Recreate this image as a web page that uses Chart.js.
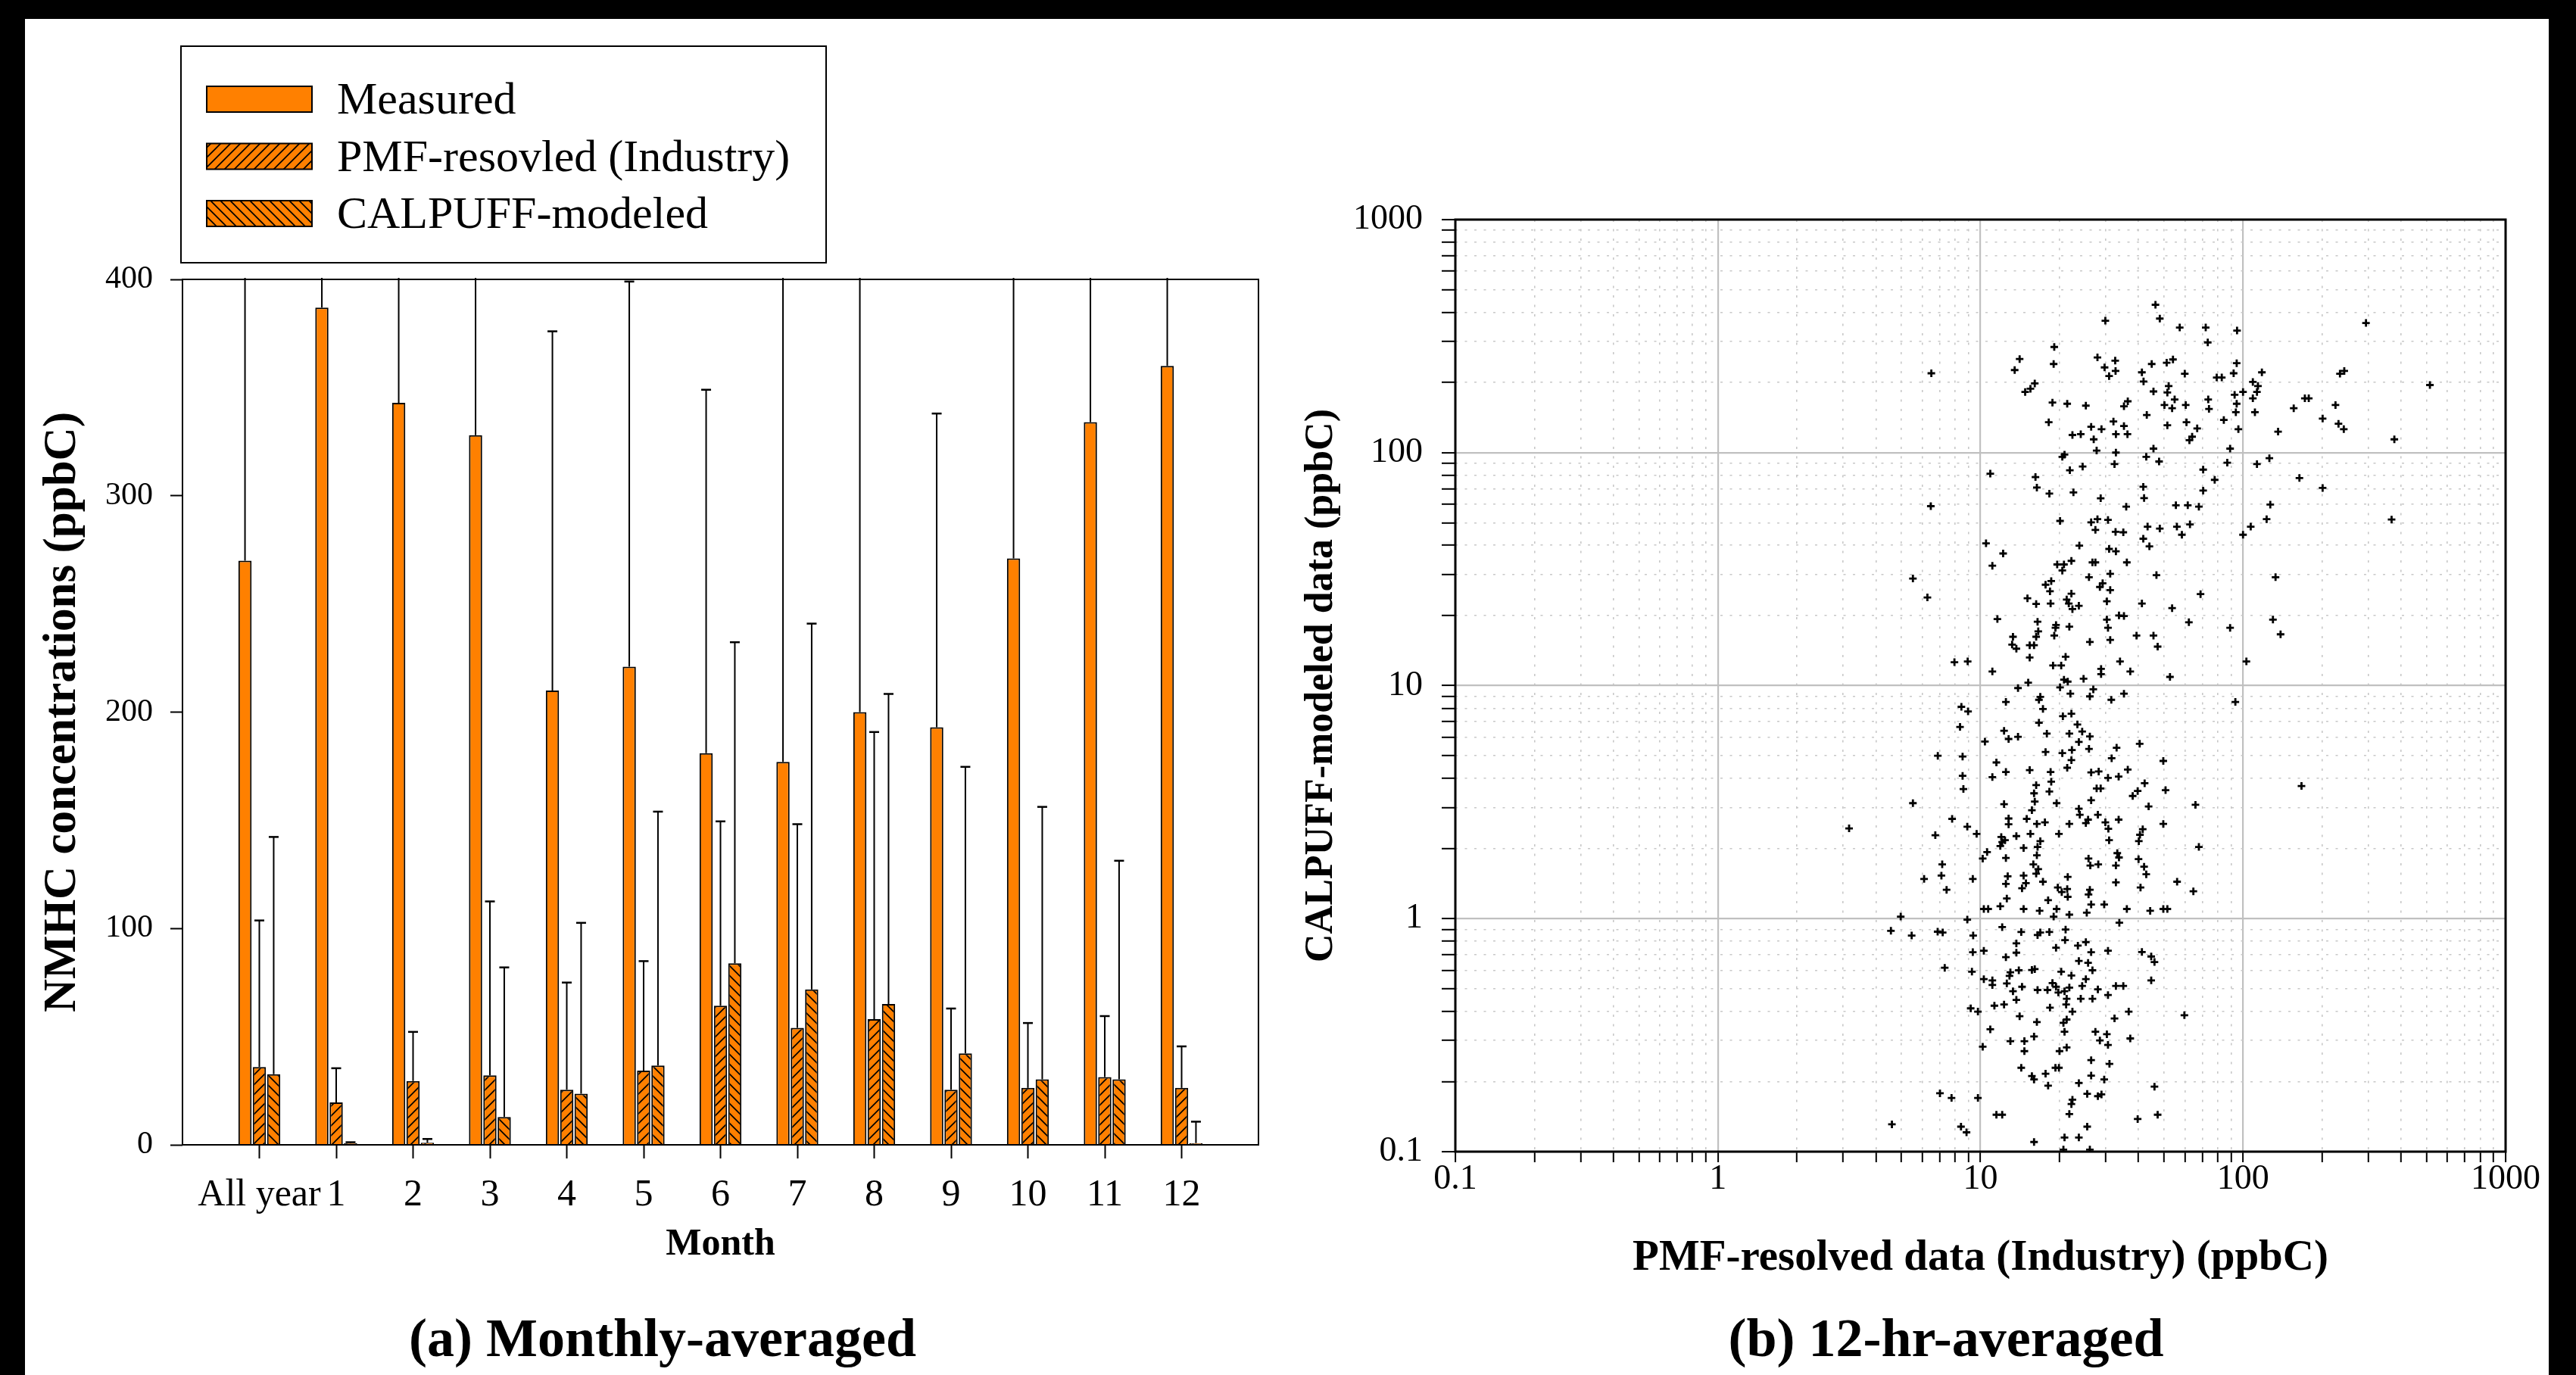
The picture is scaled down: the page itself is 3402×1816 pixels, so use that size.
<!DOCTYPE html>
<html><head><meta charset="utf-8">
<script src="https://cdn.jsdelivr.net/npm/chart.js@4.4.1/dist/chart.umd.min.js"></script>
<style>
html,body{margin:0;padding:0;width:3402px;height:1816px;overflow:hidden;background:#000;}
#panel{position:absolute;left:33px;top:25px;width:3333px;height:1791px;background:#fff;}
#c1{position:absolute;left:0;top:0;width:1750px;height:1816px;}
#c2{position:absolute;left:1690px;top:0;width:1760px;height:1816px;}
</style></head><body>
<div id="panel"></div>
<canvas id="c1" width="1750" height="1816"></canvas>
<canvas id="c2" width="1760" height="1816"></canvas>
<script>
// ---------- data: panel (a) ----------
const categories = ['All year','1','2','3','4','5','6','7','8','9','10','11','12'];
const measured      = [270, 387, 343, 328, 210, 221, 181, 177, 200, 193, 271, 334, 360];
const measuredSD    = [190, 150, 170, 180, 166, 178, 168, 240, 230, 145, 200, 160, 150];
const pmfIndustry   = [36, 19.6, 29.5, 32.1, 25.5, 34.3, 64.3, 54.1, 58.1, 25.5, 26.3, 31.3, 26.3];
const pmfSD         = [67.7, 15.8, 22.7, 80.4, 49.5, 50.6, 85.2, 94.1, 132.7, 37.5, 30, 28.2, 19.2];
const calpuff       = [32.6, 0.8, 1.0, 12.9, 23.6, 36.7, 83.9, 71.8, 65.1, 42.3, 30.3, 30.3, 0.8];
const calpuffSD     = [109.7, 0.4, 1.7, 69.1, 79, 117.3, 148.4, 169.1, 143.3, 132.4, 125.9, 101, 9.9];
const yTicksA = [0, 100, 200, 300, 400];

// ---------- data: panel (b) [PMF-resolved, CALPUFF-modeled] ----------
const pmfVsCalpuff = [
[6.5,219],[13.5,226],[14.1,252],[14.8,182],[15.5,188],[16.1,198],[19.1,284],[19.0,240],[18.8,164],[18.2,135],[21.4,162],[25.2,159],[22.4,119],[24.1,120],[26.4,129],[28.9,126],[27.0,114],[27.7,102],[20.9,98],[27.9,256],[29.9,368],[29.7,232],[30.9,213],[32.7,224],[32.6,248],[32.1,136],[32.8,120],[35.2,130],[36.3,120],[35.2,158],[36.4,166],[32.8,100],[41.2,221],[41.8,202],[44.9,240],[46.4,431],[48.2,376],[51.2,243],[54.1,251],[52.1,193],[51.5,181],[45.6,183],[43.0,145],[50.2,160],[53.7,155],[54.9,169],[51.5,131],[45.6,104],[57.4,344],[60.5,160],[60.0,218],[60.9,135],[62.5,113],[64.0,117],[66.9,127],[72.1,344],[73.4,297],[74.2,154],[73.7,169],[79.4,210],[83.0,210],[92.1,219],[94.6,242],[94.9,334],[84.5,138],[89.3,104],[92.9,177],[94.6,162],[93.9,149],[96.0,126],[100,182],[109,201],[114,193],[113,182],[109,171],[111,149],[118,221],[136,123],[156,155],[172,171],[178,171],[201,140],[225,160],[234,218],[243,224],[231,133],[242,126],[294,360],[377,114],[515,195],[126,94.6],
[42.8,95.9],[47.9,91.6],[32.4,89.3],[24.5,87.1],[20.5,95.9],[87.1,90.5],[113,89.3],[21.9,84.0],[10.9,81.2],[16.2,78.5],[70.5,84.5],[78.0,76.4],[164,77.8],[201,70.5],[16.4,70.8],[18.3,66.7],[22.6,67.5],[28.7,63.7],[41.7,71.3],[42.0,63.8],[70.5,68.7],[6.47,58.9],[35.9,58.6],[55.5,59.4],[61.6,59.4],[67.9,58.6],[127,59.8],[20.1,50.9],[26.4,50.2],[27.9,51.8],[30.6,51.4],[123,51.8],[368,51.6],[107,48.1],[100,44.4],[27.4,46.6],[32.7,45.7],[35.0,45.5],[43.3,48.1],[48.2,47.2],[56.0,48.1],[62.8,49.2],[58.5,44.4],[41.7,42.7],[10.5,40.8],[23.8,39.9],[44.0,39.6],[12.2,36.9],[30.9,38.6],[32.8,37.7],[22.2,34.3],[19.6,33.1],[20.8,33.1],[20.5,31.2],[26.7,33.8],[27.4,33.8],[36.1,33.8],[11.1,32.7],[5.53,28.8],[25.9,29.2],[31.2,30.2],[46.8,29.8],[133,29.2],[18.6,28.1],[17.7,27.1],[29.2,27.5],[28.5,26.5],[31.2,25.7],[18.4,25.4],[22.2,24.8],[68.9,24.7],[6.28,23.9],[15.1,23.7],[16.3,22.4],[18.5,22.5],[21.3,23.4],[21.7,22.5],[23.7,22.0],[22.4,21.3],[30.3,23.0],[41.2,22.5],[53.7,21.5],[11.6,19.3],[16.5,18.8],[19.4,18.2],[19.3,17.7],[21.8,17.9],[33.7,20.0],[35.2,19.9],[30.3,19.2],[30.6,17.7],[62.2,18.7],[130,19.2],[89.3,17.7],[139,16.6],[13.3,16.2],[16.6,17.1],[16.3,16.2],[19.1,16.4],[39.3,16.4],[45.6,16.4],[13.2,15.0],[13.7,14.4],[15.4,14.9],[16.0,14.9],[26.1,15.4],[31.2,15.7],[47.3,14.7],[15.4,13.2],[21.1,13.3],[7.96,12.6],[8.94,12.7],[18.9,12.2],[20.3,12.2],[34.0,12.7],[103,12.7],[11.1,11.5],[28.8,11.8],[28.8,11.2],[37.2,11.5],[52.7,10.9],[20.8,10.6],[21.5,10.4],[24.7,10.7],[15.2,10.3],
[13.9,9.76],[20.1,9.83],[26.9,9.64],[22.0,9.23],[26.1,8.99],[35.2,9.23],[31.5,8.69],[16.9,8.95],[16.7,8.69],[12.5,8.51],[93.5,8.51],[8.46,8.11],[8.97,7.75],[17.3,7.94],[20.6,7.39],[22.2,7.58],[8.36,6.65],[16.7,6.93],[23.4,6.81],[12.3,6.40],[17.9,6.22],[21.8,6.22],[24.4,6.35],[26.1,6.05],[10.4,5.75],[12.8,5.90],[13.9,6.03],[23.7,5.73],[40.4,5.63],[33.0,5.41],[6.88,5.00],[8.55,4.96],[17.7,5.19],[20.5,5.13],[22.3,5.29],[25.9,5.35],[31.6,4.88],[49.7,4.75],[11.5,4.68],[22.2,4.79],[21.4,4.44],[15.4,4.34],[12.5,4.26],[18.5,4.26],[26.4,4.24],[28.2,4.28],[36.4,4.36],[8.55,4.10],[11.1,4.05],[30.6,4.02],[33.6,4.07],[8.61,3.60],[18.6,3.87],[16.3,3.74],[18.3,3.51],[16.0,3.45],[27.7,3.62],[28.7,3.62],[42.2,3.81],[39.7,3.53],[38.0,3.36],[50.7,3.56],[167,3.71],[16.1,3.18],[26.4,3.22],[5.53,3.13],[12.3,3.10],[19.5,3.13],[65.9,3.08],[15.7,2.92],[23.7,2.96],[43.7,3.03],[28.0,2.79],[7.80,2.68],[12.8,2.69],[15.0,2.68],[23.9,2.79],[25.7,2.66],[33.6,2.66],[12.8,2.54],[16.4,2.55],[17.6,2.59],[21.8,2.55],[25.2,2.57],[29.9,2.59],[49.7,2.55],[3.16,2.44],[8.91,2.48],[30.7,2.43],[41.5,2.42],[6.73,2.28],[9.67,2.31],[15.5,2.31],[19.9,2.31],[13.7,2.26],[12.0,2.24],[12.4,2.17],[12.1,2.13],[16.9,2.15],[30.9,2.17],[40.5,2.29],[40.1,2.15],[11.9,2.05],[14.6,2.01],[16.5,2.03],[67.9,2.03],[10.6,1.93],[10.2,1.81],[12.5,1.82],[16.4,1.87],[33.2,1.91],[33.7,1.83],[25.8,1.81],[7.15,1.71],[15.9,1.71],[16.6,1.63],[26.2,1.69],[28.1,1.71],[32.8,1.69],[40.0,1.80],[42.0,1.67],[7.10,1.53],[6.10,1.48],[9.35,1.48],[12.7,1.52],[14.6,1.53],[16.3,1.56],[21.5,1.51],[42.8,1.55],[12.5,1.41],[14.9,1.42],[17.3,1.44],[32.8,1.43],[56.1,1.44],[7.43,1.33],[14.4,1.35],[19.7,1.36],[20.4,1.30],[21.4,1.34],[26.1,1.33],[25.8,1.27],[21.5,1.24],[40.7,1.36],[64.7,1.31],[12.6,1.22],[18.1,1.20],[26.4,1.15],[29.6,1.15],[10.3,1.10],[10.7,1.10],[11.9,1.13],[14.6,1.10],[16.8,1.08],[19.5,1.10],[36.1,1.10],[44.3,1.08],[49.7,1.10],[51.5,1.10],[4.97,1.02],[19.0,1.02],[21.8,1.04],[25.4,1.06],
[8.91,0.99],[33.8,0.96],[12.1,0.92],[4.56,0.887],[6.87,0.879],[7.18,0.872],[5.47,0.846],[9.38,0.846],[14.3,0.876],[16.5,0.850],[16.9,0.872],[18.3,0.876],[21.1,0.898],[21.0,0.809],[25.2,0.793],[13.7,0.783],[23.5,0.766],[19.4,0.750],[9.35,0.718],[10.3,0.728],[13.7,0.714],[26.4,0.718],[30.6,0.728],[41.2,0.719],[12.5,0.683],[44.7,0.688],[46.0,0.651],[23.7,0.658],[25.7,0.646],[7.31,0.615],[9.28,0.592],[13.0,0.588],[14.0,0.600],[15.7,0.602],[16.1,0.607],[20.3,0.592],[26.7,0.600],[12.9,0.568],[22.2,0.570],[10.3,0.550],[11.1,0.543],[25.2,0.550],[44.7,0.543],[12.6,0.527],[11.1,0.519],[14.4,0.510],[18.8,0.529],[19.4,0.510],[21.8,0.506],[24.4,0.514],[32.8,0.514],[35.0,0.514],[16.5,0.494],[18.0,0.494],[13.3,0.488],[19.8,0.482],[20.9,0.488],[28.0,0.497],[30.6,0.470],[13.7,0.448],[21.3,0.453],[24.1,0.453],[26.7,0.453],[9.18,0.412],[9.78,0.399],[11.3,0.423],[12.3,0.428],[18.4,0.415],[21.2,0.428],[22.4,0.399],[36.7,0.399],[59.8,0.385],[14.1,0.381],[32.4,0.373],[16.4,0.360],[20.7,0.357],[21.3,0.369],[10.9,0.335],[20.9,0.327],[27.4,0.327],[30.3,0.319],[16.0,0.312],[13.0,0.298],[14.7,0.298],[28.5,0.300],[37.2,0.306],[30.6,0.287],[10.2,0.282],[21.3,0.280],[14.7,0.270],[20.0,0.270],[26.4,0.247],[31.0,0.238],[14.3,0.229],[19.3,0.229],[19.9,0.229],[15.7,0.211],[17.7,0.216],[16.0,0.204],[26.4,0.212],[29.6,0.204],[18.1,0.192],[23.7,0.197],[46.0,0.190],[7.01,0.178],[7.76,0.170],[9.78,0.170],[25.5,0.177],[28.0,0.173],[28.9,0.176],[22.4,0.167],[22.2,0.160],[11.5,0.144],[12.1,0.144],[21.8,0.145],[39.7,0.138],[47.3,0.144],[4.60,0.131],[8.43,0.128],[8.85,0.121],[25.5,0.128],[20.9,0.115],[23.7,0.115],[16.0,0.110],[20.7,0.102],[26.1,0.102]
];
const decadeLabels = ['0.1','1','10','100','1000'];

// ---------- styling ----------
const SERIF = "'Liberation Serif','Times New Roman','DejaVu Serif',serif";
const ORANGE = '#FF8000';
Chart.defaults.color = '#000';

const ctx1 = document.getElementById('c1').getContext('2d');
function hatch(dir){
  const s = 13, c = document.createElement('canvas');
  c.width = s; c.height = s;
  const g = c.getContext('2d');
  g.fillStyle = ORANGE; g.fillRect(0,0,s,s);
  g.strokeStyle = '#000'; g.lineWidth = 1.7; g.beginPath();
  if (dir > 0) {
    g.moveTo(0,s); g.lineTo(s,0);
    g.moveTo(-s/2,s/2); g.lineTo(s/2,-s/2);
    g.moveTo(s/2,s*1.5); g.lineTo(s*1.5,s/2);
  } else {
    g.moveTo(0,0); g.lineTo(s,s);
    g.moveTo(-s/2,s/2); g.lineTo(s/2,s*1.5);
    g.moveTo(s/2,-s/2); g.lineTo(s*1.5,s/2);
  }
  g.stroke();
  return ctx1.createPattern(c,'repeat');
}

const pad = a => [null, ...a, null];
const xLabels = ['', ...categories, ''];

const errorBars = {
  id: 'errorBars',
  afterDatasetsDraw(chart) {
    const {ctx, chartArea: a, scales: {y}} = chart;
    ctx.save();
    ctx.beginPath(); ctx.rect(a.left, a.top - 2, a.right - a.left, a.bottom - a.top + 2); ctx.clip();
    ctx.strokeStyle = '#000';
    chart.data.datasets.forEach((ds, i) => {
      const meta = chart.getDatasetMeta(i);
      (ds.errors || []).forEach((e, j) => {
        const v = ds.data[j];
        if (v == null || e == null) return;
        const el = meta.data[j];
        const x = el.x, y0 = el.y, y1 = y.getPixelForValue(v + e);
        ctx.lineWidth = 2;
        ctx.beginPath(); ctx.moveTo(x, y0); ctx.lineTo(x, y1); ctx.stroke();
        if (y1 >= a.top - 1) {
          ctx.lineWidth = 2.5;
          ctx.beginPath(); ctx.moveTo(x - 6.5, y1); ctx.lineTo(x + 6.5, y1); ctx.stroke();
        }
      });
    });
    ctx.restore();
  }
};

const frame = {
  id: 'frame',
  afterDraw(chart, args, o) {
    const {ctx, chartArea: a} = chart;
    ctx.save();
    ctx.strokeStyle = '#000'; ctx.lineWidth = o.width || 2;
    ctx.strokeRect(a.left, a.top, a.right - a.left, a.bottom - a.top);
    ctx.restore();
  }
};

const boxLegend = {
  id: 'boxLegend',
  afterDraw(chart, args, o) {
    if (!o || !o.show) return;
    const ctx = chart.ctx;
    ctx.save();
    ctx.fillStyle = '#fff'; ctx.fillRect(o.x, o.y, o.w, o.h);
    ctx.lineWidth = 2; ctx.strokeStyle = '#000'; ctx.strokeRect(o.x, o.y, o.w, o.h);
    ctx.font = o.font; ctx.textAlign = 'left'; ctx.textBaseline = 'alphabetic';
    chart.data.datasets.forEach((ds, i) => {
      const cy = o.y + o.rowTop + i * o.rowGap;
      ctx.fillStyle = ds.backgroundColor;
      ctx.fillRect(o.swX, cy - o.swH / 2, o.swW, o.swH);
      ctx.lineWidth = 2; ctx.strokeStyle = '#000';
      ctx.strokeRect(o.swX, cy - o.swH / 2, o.swW, o.swH);
      ctx.fillStyle = '#000';
      ctx.fillText(ds.label, o.textX, cy + 19);
    });
    ctx.restore();
  }
};

// an invisible right-hand spacer axis so the bottom title centres on the whole panel
const spacer = w => ({
  position: 'right', display: true,
  grid: {display: false}, ticks: {display: false}, border: {display: false},
  afterFit(s) { s.width = w; }
});

// ---------- chart (a) ----------
new Chart(ctx1, {
  type: 'bar',
  data: {
    labels: xLabels,
    datasets: [
      {label: 'Measured', data: pad(measured), errors: pad(measuredSD), backgroundColor: ORANGE, yAxisID: 'y', xAxisID: 'x',
       borderColor: '#000', borderWidth: 2, categoryPercentage: 0.56, barPercentage: 0.92},
      {label: 'PMF-resovled (Industry)', data: pad(pmfIndustry), errors: pad(pmfSD), backgroundColor: hatch(1), yAxisID: 'y', xAxisID: 'x',
       borderColor: '#000', borderWidth: 2, categoryPercentage: 0.56, barPercentage: 0.92},
      {label: 'CALPUFF-modeled', data: pad(calpuff), errors: pad(calpuffSD), backgroundColor: hatch(-1), yAxisID: 'y', xAxisID: 'x',
       borderColor: '#000', borderWidth: 2, categoryPercentage: 0.56, barPercentage: 0.92}
    ]
  },
  options: {
    responsive: false, animation: false, devicePixelRatio: 1,
    layout: {padding: {top: 369, right: 0, left: 0, bottom: 0}},
    plugins: {
      legend: {display: false}, tooltip: {enabled: false},
      title: {display: true, position: 'bottom', text: '(a) Monthly-averaged', color: '#000',
              font: {family: SERIF, size: 72, weight: 'bold', lineHeight: 1.2}, padding: {top: 0, bottom: 0}},
      frame: {width: 2},
      boxLegend: {show: true, x: 239, y: 61, w: 852, h: 286, rowTop: 70, rowGap: 75.5,
                  swX: 273, swW: 139, swH: 34, textX: 445, font: "60px 'Liberation Serif', serif"}
    },
    scales: {
      x: {
        type: 'category', offset: false,
        grid: {display: true, drawOnChartArea: false, offset: false, tickLength: 18, tickWidth: 2,
               tickColor: c => (c.index === 0 || c.index === xLabels.length - 1) ? 'rgba(0,0,0,0)' : '#000'},
        border: {display: false},
        ticks: {autoSkip: false, maxRotation: 0, minRotation: 0, color: '#000',
                font: {family: SERIF, size: 50, lineHeight: 1}, padding: 24},
        title: {display: true, text: 'Month', color: '#000',
                font: {family: SERIF, size: 50, weight: 'bold', lineHeight: 1.2}, padding: {top: 0, bottom: 56}},
        afterFit(s) { s.height = 217.6; }
      },
      y: {
        min: 0, max: 400,
        afterBuildTicks(s) { s.ticks = yTicksA.map(v => ({value: v})); },
        ticks: {color: '#000', font: {family: SERIF, size: 42, lineHeight: 1}, padding: 23},
        grid: {drawOnChartArea: false, tickLength: 16, tickWidth: 2, tickColor: '#000'},
        border: {display: false},
        title: {display: true, text: 'NMHC concentrations (ppbC)', color: '#000',
                font: {family: SERIF, size: 61, weight: 'bold', lineHeight: 1.2}, padding: {top: 47, bottom: 0}},
        afterFit(s) { s.width = 241; }
      },
      ySpace: spacer(88)
    }
  },
  plugins: [errorBars, frame, boxLegend]
});

// ---------- chart (b) ----------
const logTicks = [];
for (let e = -1; e <= 2; e++) for (let k = 1; k <= 9; k++) logTicks.push(Number((k * Math.pow(10, e)).toPrecision(6)));
logTicks.push(1000);
const isDecade = v => Math.abs(Math.log10(v) - Math.round(Math.log10(v))) < 1e-6;
const decadeLabel = v => isDecade(v) ? decadeLabels[Math.round(Math.log10(v)) + 1] : '';

const logGrid = {
  color: c => (c.tick && isDecade(c.tick.value)) ? '#c0c0c0' : '#c8c8c8',
  lineWidth: c => (c.tick && isDecade(c.tick.value)) ? 2.2 : 1.6,
  tickColor: '#000', tickWidth: 2
};
const logBorder = {display: false, dash: c => (c.tick && isDecade(c.tick.value)) ? [] : [3, 9.5]};

new Chart(document.getElementById('c2').getContext('2d'), {
  type: 'scatter',
  data: {
    datasets: [{
      label: 'Industry', xAxisID: 'x', yAxisID: 'y',
      data: pmfVsCalpuff.map(([x, y]) => ({x, y})),
      pointStyle: 'cross', radius: 5, borderWidth: 2.8, borderColor: '#000', backgroundColor: '#000'
    }]
  },
  options: {
    responsive: false, animation: false, devicePixelRatio: 1,
    layout: {padding: {top: 290, right: 0, left: 0, bottom: 0}},
    plugins: {
      legend: {display: false}, tooltip: {enabled: false},
      title: {display: true, position: 'bottom', text: '(b) 12-hr-averaged', color: '#000',
              font: {family: SERIF, size: 72, weight: 'bold', lineHeight: 1.2}, padding: {top: 0, bottom: 0}},
      frame: {width: 3}
    },
    scales: {
      x: {
        type: 'logarithmic', min: 0.1, max: 1000,
        afterBuildTicks(s) { s.ticks = logTicks.map(v => ({value: v, major: isDecade(v)})); },
        ticks: {autoSkip: false, maxRotation: 0, minRotation: 0, callback: v => decadeLabel(v),
                color: '#000', font: {family: SERIF, size: 46, lineHeight: 1}, padding: 0},
        grid: Object.assign({tickLength: 14}, logGrid),
        border: logBorder,
        title: {display: true, text: 'PMF-resolved data (Industry) (ppbC)', color: '#000',
                font: {family: SERIF, size: 57, weight: 'bold', lineHeight: 1.2}, padding: {top: 0, bottom: 33}},
        afterFit(s) { s.height = 208.6; }
      },
      y: {
        type: 'logarithmic', min: 0.1, max: 1000,
        afterBuildTicks(s) { s.ticks = logTicks.map(v => ({value: v, major: isDecade(v)})); },
        ticks: {autoSkip: false, callback: v => decadeLabel(v),
                color: '#000', font: {family: SERIF, size: 46, lineHeight: 1}, padding: 25},
        grid: Object.assign({tickLength: 18}, logGrid),
        border: logBorder,
        title: {display: true, text: 'CALPUFF-modeled data (ppbC)', color: '#000',
                font: {family: SERIF, size: 52, weight: 'bold', lineHeight: 1.2}, padding: {top: 24, bottom: 0}},
        afterFit(s) { s.width = 232; }
      },
      ySpace: spacer(141)
    }
  },
  plugins: [frame]
});
</script>
</body></html>
